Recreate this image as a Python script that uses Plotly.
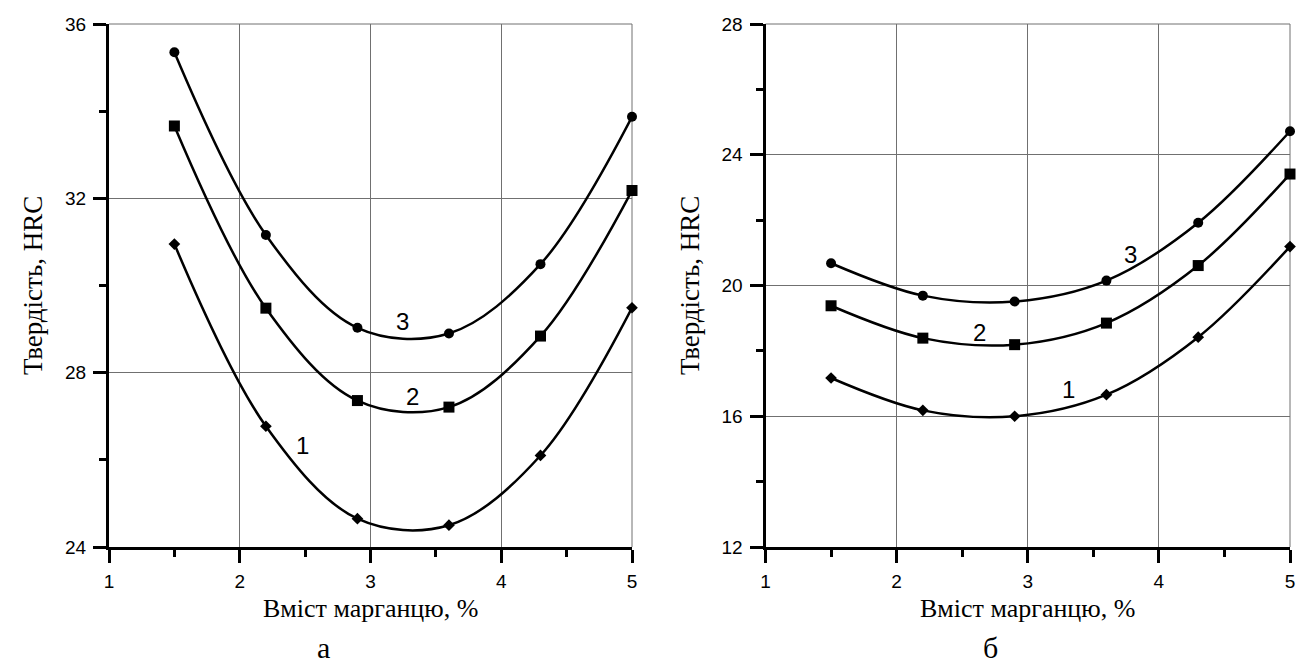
import plotly.graph_objects as go

W, H = 1298, 669

# ---- data ----
mn_content = [1.5, 2.2, 2.9, 3.6, 4.3, 5.0]

a_curve1 = [30.95, 26.77, 24.65, 24.50, 26.10, 29.49]
a_curve2 = [33.66, 29.48, 27.36, 27.21, 28.84, 32.18]
a_curve3 = [35.35, 31.16, 29.03, 28.90, 30.49, 33.87]

b_curve1 = [17.17, 16.18, 16.00, 16.66, 18.42, 21.19]
b_curve2 = [19.38, 18.39, 18.19, 18.85, 20.61, 23.41]
b_curve3 = [20.68, 19.69, 19.51, 20.15, 21.92, 24.72]

curve_names = ["1", "2", "3"]
a_label_pos = [(2.48, 26.33), (3.32, 27.45), (3.245, 29.17)]
b_label_pos = [(3.31, 16.82), (2.63, 18.55), (3.78, 20.94)]

x_title = "Вміст марганцю, %"
y_title = "Твердість, HRC"
panel_labels = ["а", "б"]

# ---- styling ----
symbols = ["diamond", "square", "circle"]
sizes = [9, 11, 10]

def px(x):
    return x / W

def py(y):
    return 1 - y / H

fig = go.Figure()

for (xa, ya, series) in [("x", "y", [a_curve1, a_curve2, a_curve3]),
                         ("x2", "y2", [b_curve1, b_curve2, b_curve3])]:
    for i, vals in enumerate(series):
        fig.add_trace(go.Scatter(
            x=mn_content, y=vals, xaxis=xa, yaxis=ya,
            mode="lines+markers",
            line=dict(color="black", width=2.5, shape="spline", smoothing=1.0),
            marker=dict(symbol=symbols[i], size=sizes[i], color="black"),
            cliponaxis=False, showlegend=False, hoverinfo="skip",
        ))

tickfont = dict(family="Liberation Sans, Arial, sans-serif", size=19, color="black")
grid_col = "#707070"

def xaxis_cfg(domain, anchor):
    return dict(
        domain=domain, anchor=anchor, range=[1, 5], tick0=1, dtick=1,
        showline=True, linewidth=3, linecolor="black",
        ticks="outside", ticklen=13, tickwidth=3, tickcolor="black",
        showgrid=True, gridcolor=grid_col, gridwidth=1, zeroline=False,
        tickfont=tickfont, ticklabelstandoff=2,
        minor=dict(dtick=0.5, tick0=1, ticks="outside", ticklen=7, tickwidth=3,
                   tickcolor="black", showgrid=False),
        automargin=False, fixedrange=True,
    )

def yaxis_cfg(domain, anchor, rng):
    return dict(
        domain=domain, anchor=anchor, range=rng, tick0=rng[0], dtick=4,
        showline=True, linewidth=3, linecolor="black",
        ticks="outside", ticklen=13, tickwidth=3, tickcolor="black",
        showgrid=True, gridcolor=grid_col, gridwidth=1, zeroline=False,
        tickfont=tickfont, ticklabelstandoff=3,
        minor=dict(dtick=2, tick0=rng[0], ticks="outside", ticklen=7, tickwidth=3,
                   tickcolor="black", showgrid=False),
        automargin=False, fixedrange=True,
    )

ydom = [py(547), py(24)]
fig.update_layout(
    width=W, height=H,
    margin=dict(l=0, r=0, t=0, b=0),
    paper_bgcolor="white", plot_bgcolor="white",
    xaxis=xaxis_cfg([px(109), px(632)], "y"),
    yaxis=yaxis_cfg(ydom, "x", [24, 36]),
    xaxis2=xaxis_cfg([px(765.5), px(1290)], "y2"),
    yaxis2=yaxis_cfg(ydom, "x2", [12, 28]),
)

shapes = []
for xr, yr in [("x domain", "y domain"), ("x2 domain", "y2 domain")]:
    shapes.append(dict(type="line", xref=xr, yref=yr, x0=0, x1=1, y0=1, y1=1,
                       line=dict(color=grid_col, width=1), layer="below"))
    shapes.append(dict(type="line", xref=xr, yref=yr, x0=1, x1=1, y0=0, y1=1,
                       line=dict(color=grid_col, width=1), layer="below"))
fig.update_layout(shapes=shapes)

serif = "Liberation Serif, Times New Roman, serif"
ann = []
# curve labels
for (xa, ya, poss) in [("x", "y", a_label_pos), ("x2", "y2", b_label_pos)]:
    for name, (lx, ly) in zip(curve_names, poss):
        ann.append(dict(x=lx, y=ly, xref=xa, yref=ya, text=name, showarrow=False,
                        xanchor="center", yanchor="middle",
                        font=dict(family="Liberation Sans, Arial, sans-serif", size=24, color="black")))
# axis titles
for cx in [370.5, 1027.75]:
    ann.append(dict(x=px(cx), y=py(608), xref="paper", yref="paper", text=x_title,
                    showarrow=False, xanchor="center", yanchor="middle",
                    font=dict(family=serif, size=26, color="black")))
for cx in [33, 690]:
    ann.append(dict(x=px(cx), y=py(286), xref="paper", yref="paper", text=y_title,
                    showarrow=False, xanchor="center", yanchor="middle", textangle=-90,
                    font=dict(family=serif, size=27, color="black")))
# panel labels
for cx, lab in zip([323, 990], panel_labels):
    ann.append(dict(x=px(cx), y=py(647), xref="paper", yref="paper", text=lab,
                    showarrow=False, xanchor="center", yanchor="middle",
                    font=dict(family=serif, size=30, color="black")))
fig.update_layout(annotations=ann)

fig.write_html("out.html")
